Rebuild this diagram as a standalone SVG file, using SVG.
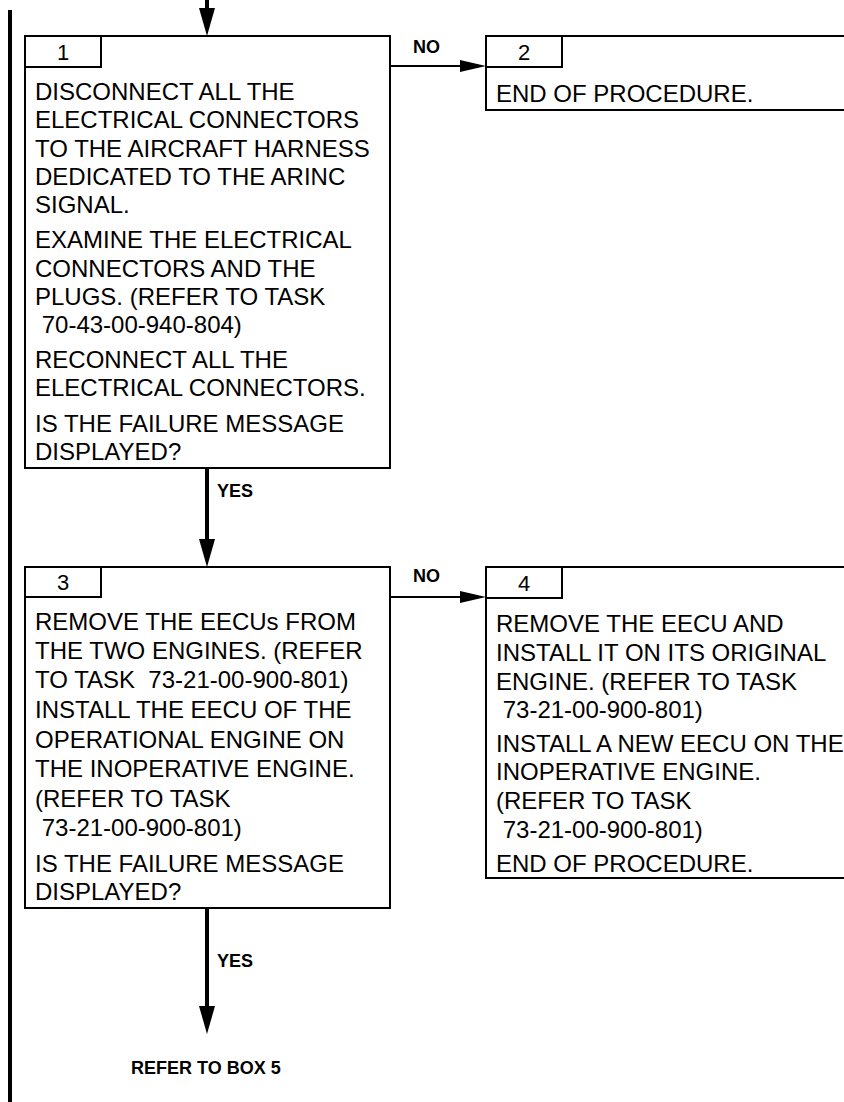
<svg xmlns="http://www.w3.org/2000/svg" width="844" height="1102" viewBox="0 0 844 1102">
<style>
.box{fill:#fff;stroke:#000;stroke-width:2}
.t{font-family:"Liberation Sans",Arial,sans-serif;font-size:24px;fill:#000}
.n{font-family:"Liberation Sans",Arial,sans-serif;font-size:22px;fill:#000;text-anchor:middle}
.lbl{font-family:"Liberation Sans",Arial,sans-serif;font-size:18px;font-weight:bold;fill:#000}
.v{stroke:#000;stroke-width:4;fill:none}
.h{stroke:#000;stroke-width:2;fill:none}
</style>
<defs>
<marker id="av" markerUnits="userSpaceOnUse" markerWidth="28" markerHeight="16" refX="8" refY="8" orient="auto" viewBox="0 0 28 16"><path d="M0,0 L28,8 L0,16 z" fill="#000"/></marker>
<marker id="ah" markerUnits="userSpaceOnUse" markerWidth="26" markerHeight="12" refX="6" refY="6" orient="auto" viewBox="0 0 26 12"><path d="M0,0 L26,6 L0,12 z" fill="#000"/></marker>
</defs>
<rect x="8" y="10" width="4" height="1092" fill="#000"/>
<g id="connectors">
<line class="v" x1="207" y1="0" x2="207" y2="16" marker-end="url(#av)"/>
<line class="h" x1="390" y1="66" x2="466" y2="66" marker-end="url(#ah)"/>
<text class="lbl" x="413" y="53">NO</text>
<line class="v" x1="207" y1="468" x2="207" y2="547" marker-end="url(#av)"/>
<text class="lbl" x="217" y="497">YES</text>
<line class="h" x1="390" y1="597" x2="466" y2="597" marker-end="url(#ah)"/>
<text class="lbl" x="413" y="582">NO</text>
<line class="v" x1="207" y1="908" x2="207" y2="1014" marker-end="url(#av)"/>
<text class="lbl" x="217" y="967">YES</text>
<text class="lbl" x="131" y="1074">REFER TO BOX 5</text>
</g>
<g id="node1">
<rect class="box" x="25" y="36" width="365" height="432"/>
<rect class="box" x="25" y="36" width="76" height="31"/>
<text class="n" x="63" y="60">1</text>
<text class="t" x="35" y="99.5">DISCONNECT ALL THE</text>
<text class="t" x="35" y="128">ELECTRICAL CONNECTORS</text>
<text class="t" x="35" y="156.5">TO THE AIRCRAFT HARNESS</text>
<text class="t" x="35" y="185">DEDICATED TO THE ARINC</text>
<text class="t" x="35" y="213">SIGNAL.</text>
<text class="t" x="35" y="248">EXAMINE THE ELECTRICAL</text>
<text class="t" x="35" y="276.5">CONNECTORS AND THE</text>
<text class="t" x="35" y="305">PLUGS. (REFER TO TASK</text>
<text class="t" x="41.7" y="333">70-43-00-940-804)</text>
<text class="t" x="35" y="368">RECONNECT ALL THE</text>
<text class="t" x="35" y="396">ELECTRICAL CONNECTORS.</text>
<text class="t" x="35" y="432">IS THE FAILURE MESSAGE</text>
<text class="t" x="35" y="460">DISPLAYED?</text>
</g>
<g id="node2">
<rect class="box" x="486" y="36" width="370" height="74"/>
<rect class="box" x="486" y="36" width="76" height="31"/>
<text class="n" x="524" y="60">2</text>
<text class="t" x="496" y="102">END OF PROCEDURE.</text>
</g>
<g id="node3">
<rect class="box" x="25" y="567" width="365" height="341"/>
<rect class="box" x="25" y="567" width="76" height="30"/>
<text class="n" x="63" y="590">3</text>
<text class="t" x="35" y="630">REMOVE THE EECUs FROM</text>
<text class="t" x="35" y="659">THE TWO ENGINES. (REFER</text>
<text class="t" x="35" y="688" xml:space="preserve">TO TASK  73-21-00-900-801)</text>
<text class="t" x="35" y="718">INSTALL THE EECU OF THE</text>
<text class="t" x="35" y="748">OPERATIONAL ENGINE ON</text>
<text class="t" x="35" y="777">THE INOPERATIVE ENGINE.</text>
<text class="t" x="35" y="806.5">(REFER TO TASK</text>
<text class="t" x="41.7" y="836">73-21-00-900-801)</text>
<text class="t" x="35" y="871.5">IS THE FAILURE MESSAGE</text>
<text class="t" x="35" y="900">DISPLAYED?</text>
</g>
<g id="node4">
<rect class="box" x="486" y="567" width="370" height="311"/>
<rect class="box" x="486" y="567" width="76" height="31"/>
<text class="n" x="524" y="591">4</text>
<text class="t" x="496" y="632">REMOVE THE EECU AND</text>
<text class="t" x="496" y="661">INSTALL IT ON ITS ORIGINAL</text>
<text class="t" x="496" y="690">ENGINE. (REFER TO TASK</text>
<text class="t" x="502.7" y="718">73-21-00-900-801)</text>
<text class="t" x="496" y="752">INSTALL A NEW EECU ON THE</text>
<text class="t" x="496" y="780">INOPERATIVE ENGINE.</text>
<text class="t" x="496" y="809">(REFER TO TASK</text>
<text class="t" x="502.7" y="838">73-21-00-900-801)</text>
<text class="t" x="496" y="871.5">END OF PROCEDURE.</text>
</g>
</svg>
